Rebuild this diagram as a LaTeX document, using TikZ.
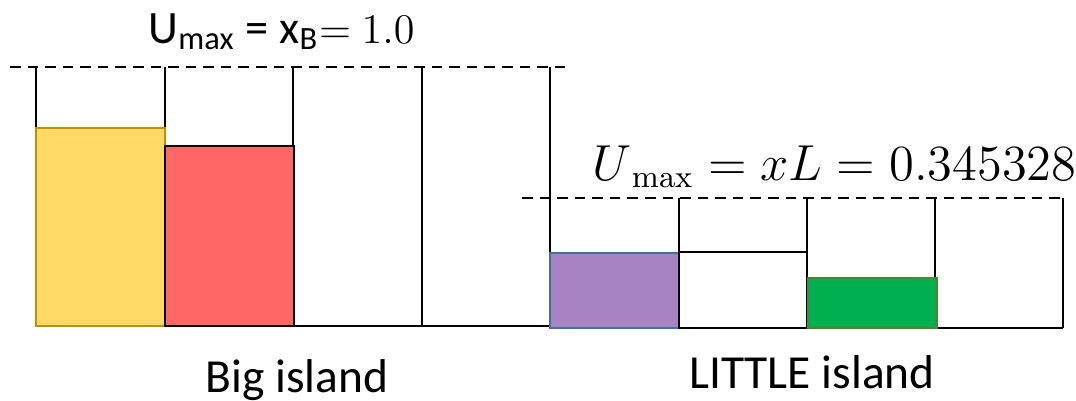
\documentclass[tikz,border=0pt]{standalone}
\usepackage[no-math]{fontspec}
\setmainfont{Carlito}
\usetikzlibrary{positioning}
\definecolor{BinYellow}{HTML}{FFD966}
\definecolor{BinYellowEdge}{HTML}{BF9000}
\definecolor{BinRed}{HTML}{FF6666}
\definecolor{BinPurple}{HTML}{A883C4}
\definecolor{BinPurpleEdge}{HTML}{41719C}
\definecolor{BinGreen}{HTML}{00B050}
\definecolor{BinGreenEdge}{HTML}{548235}

\begin{document}
\begin{tikzpicture}[
        wall/.style={draw=black, line width=0.6pt},
        limit/.style={draw=black, line width=0.5pt, dashed, dash pattern=on 3pt off 2pt},
        item/.style={line width=0.8pt},
        caption/.style={inner sep=0pt, anchor=base, font=\fontsize{13.5}{16}\selectfont},
        bound/.style={inner sep=0pt, anchor=base west}
    ]
        \useasboundingbox (0,0) rectangle (10.76,4);

        % big island: five bins of height 1.0
        \foreach \x in {0.36,1.65,2.93,4.22,5.50}
            \draw [wall] (\x,3.33) -- (\x,0.74);
        \draw [wall] (0.36,0.74) -- (5.50,0.74);
        \draw [limit] (0.10,3.33) -- (5.70,3.33);
        \draw [item, draw=BinYellowEdge, fill=BinYellow] (0.36,0.74) rectangle (1.65,2.72);
        \draw [item, draw=black, fill=BinRed] (1.65,0.74) rectangle (2.94,2.54);

        % little island: bins cut at xL
        \foreach \x in {6.79,8.07,9.35,10.63}
            \draw [wall] (\x,2.02) -- (\x,0.72);
        \draw [wall] (5.50,0.72) -- (10.63,0.72);
        \draw [limit] (5.22,2.02) -- (10.64,2.02);
        \draw [item, draw=BinPurpleEdge, fill=BinPurple] (5.50,0.72) rectangle (6.79,1.47);
        \draw [wall, fill=white] (6.79,0.72) rectangle (8.07,1.48);
        \draw [item, draw=BinGreenEdge, fill=BinGreen] (8.08,0.72) rectangle (9.37,1.22);

        % labels
        \node [bound, font=\fontsize{13.2}{16}\selectfont] (bigmax) at (1.48,3.57)
            {U\textsubscript{max} = x\textsubscript{B}$=$ $1.0$};
        \node [bound, font=\fontsize{13.4}{16}\selectfont] (littlemax) at (5.92,2.20)
            {$U_{\,\max} = xL = 0.345328$};
        \node [caption] (bigname) at (2.97,0.08) {Big island};
        \node [caption] (littlename) at (8.12,0.12) {LITTLE island};
    \end{tikzpicture}
\end{document}
